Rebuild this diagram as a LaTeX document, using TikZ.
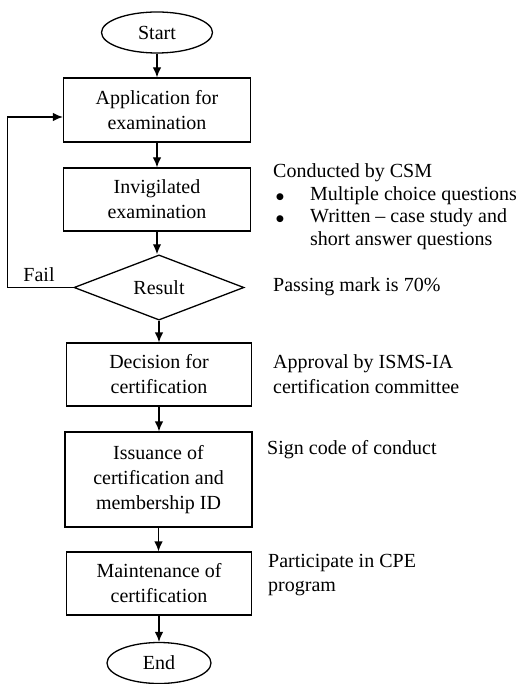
\documentclass[tikz,border=0pt]{standalone}
\usepackage{fontspec}
\setmainfont{Liberation Serif}
\newfontfamily\dvsfont{DejaVu Sans}
\usetikzlibrary{shapes.geometric,arrows.meta}
\newcommand{\bigbul}{\raisebox{1pt}{\dvsfont\fontsize{9}{11}\selectfont ●}}
\begin{document}
\begin{tikzpicture}[x=1pt,y=-1pt,
  base/.style={draw, line width=1.3pt, inner sep=0pt, align=center, font=\fontsize{20}{25}\selectfont},
  procbox/.style={base, rectangle, minimum width=187pt, minimum height=63pt},
  term/.style={base, ellipse, minimum width=111pt, minimum height=41pt},
  decide/.style={base, diamond, minimum width=170pt, minimum height=60pt},
  arr/.style={-{Latex[length=10pt,width=8.5pt]}, line width=1.3pt},
  note/.style={inner sep=0pt, align=left, anchor=west, font=\fontsize{20}{22.5}\selectfont}]
\useasboundingbox (0,0) rectangle (520,684);

\node[term] (start) at (157,32.5) {Start};
\node[procbox, minimum height=64pt] (appl) at (157,110) {Application for\\examination};
\node[procbox] (invig) at (157,199.5) {Invigilated\\examination};
\node[decide] (res) at (159,287.5) {Result};
\node[procbox, minimum width=185pt] (dec) at (159,374.5) {Decision for\\certification};
\node[procbox, minimum height=95pt] (iss) at (158.5,479.5) {Issuance of\\certification and\\membership ID};
\node[procbox, minimum width=185pt] (maint) at (159,583.5) {Maintenance of\\certification};
\node[term, minimum width=104pt] (end) at (159,663) {End};

\draw[arr] (start.south) -- (start.south |- appl.north);
\draw[arr] (appl.south) -- (appl.south |- invig.north);
\draw[arr] (invig.south) -- (invig.south |- res.north);
\draw[arr] (res.south) -- (res.south |- dec.north);
\draw[arr] (dec.south) -- (dec.south |- iss.north);
\draw[arr] (iss.south) -- (iss.south |- maint.north);
\draw[arr] (maint.south) -- (maint.south |- end.north);
\draw[arr] (res.west) -- ++(-66,0) |- ([yshift=-7pt]appl.west);

\node[inner sep=0pt, font=\fontsize{20}{24}\selectfont] (fail) at (39,275) {Fail};

\node[note] (n1) at (273,206.5) {Conducted by CSM\\
\makebox[37pt][l]{\hspace*{3pt}\bigbul}Multiple choice questions\\
\makebox[37pt][l]{\hspace*{3pt}\bigbul}Written – case study and\\
\hspace*{37pt}short answer questions};
\node[note] (n2) at (273,287) {Passing mark is 70\%};
\node[note, font=\fontsize{20}{25}\selectfont] (n3) at (273,374.5) {Approval by ISMS-IA\\certification committee};
\node[note] (n4) at (267,450) {Sign code of conduct};
\node[note, font=\fontsize{20}{24}\selectfont] (n5) at (268,575) {Participate in CPE\\program};
\end{tikzpicture}
\end{document}
